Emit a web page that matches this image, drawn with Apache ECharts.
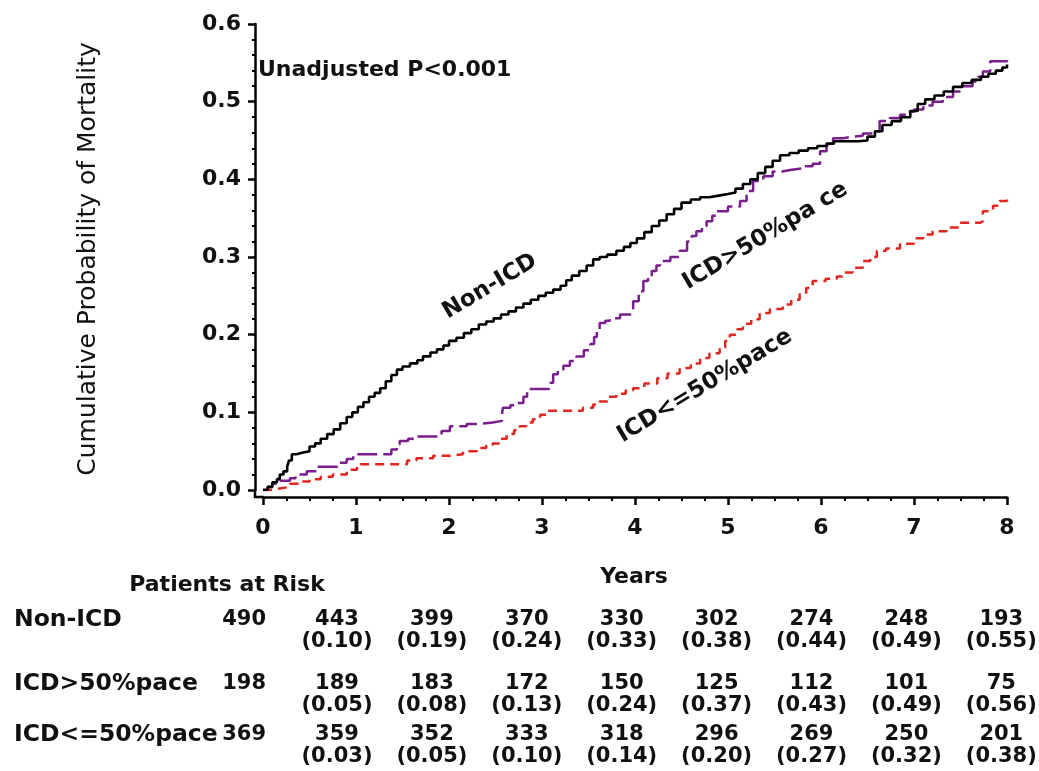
<!DOCTYPE html>
<html>
<head>
<meta charset="utf-8">
<script src="https://cdn.jsdelivr.net/npm/echarts@6/dist/echarts.min.js"></script>
<style>
html,body{margin:0;padding:0;background:#fff;}
#chart{width:1039px;height:771px;}
</style>
</head>
<body>
<div id="chart"></div>
<script>
// ---------- DATA ----------
const seriesNames = ['Non-ICD', 'ICD>50%pace', 'ICD<=50%pace'];
const xTicks = [0, 1, 2, 3, 4, 5, 6, 7, 8];
const yTicks = [0.0, 0.1, 0.2, 0.3, 0.4, 0.5, 0.6];

const nonICD = [[0,0],[0.05,0.004],[0.1,0.01],[0.15,0.014],[0.18,0.02],[0.22,0.024],[0.26,0.03],[0.28,0.038],[0.31,0.046],[0.36,0.048],[0.42,0.05],[0.5,0.056],[0.56,0.06],[0.62,0.066],[0.69,0.072],[0.76,0.078],[0.83,0.086],[0.9,0.094],[0.96,0.1],[1.02,0.107],[1.08,0.113],[1.14,0.12],[1.2,0.125],[1.26,0.131],[1.32,0.14],[1.38,0.148],[1.44,0.155],[1.5,0.159],[1.58,0.163],[1.66,0.167],[1.72,0.172],[1.8,0.177],[1.87,0.181],[1.94,0.186],[2.0,0.192],[2.08,0.196],[2.16,0.202],[2.24,0.207],[2.32,0.213],[2.4,0.217],[2.48,0.221],[2.56,0.226],[2.64,0.23],[2.72,0.235],[2.8,0.24],[2.88,0.245],[2.96,0.25],[3.04,0.254],[3.12,0.258],[3.2,0.263],[3.26,0.27],[3.32,0.276],[3.4,0.282],[3.48,0.289],[3.55,0.297],[3.62,0.3],[3.7,0.303],[3.8,0.308],[3.88,0.313],[3.95,0.318],[4.02,0.324],[4.1,0.332],[4.18,0.34],[4.26,0.347],[4.34,0.355],[4.42,0.362],[4.5,0.37],[4.6,0.374],[4.7,0.377],[4.8,0.379],[4.9,0.381],[5.0,0.383],[5.08,0.388],[5.16,0.394],[5.24,0.4],[5.32,0.408],[5.4,0.416],[5.48,0.424],[5.56,0.431],[5.66,0.434],[5.76,0.437],[5.86,0.44],[5.96,0.443],[6.06,0.446],[6.14,0.449],[6.26,0.449],[6.4,0.45],[6.5,0.455],[6.58,0.462],[6.66,0.47],[6.76,0.475],[6.86,0.48],[6.96,0.488],[7.04,0.497],[7.12,0.503],[7.22,0.508],[7.32,0.513],[7.42,0.519],[7.52,0.524],[7.62,0.528],[7.72,0.532],[7.8,0.536],[7.88,0.54],[7.95,0.544],[8.0,0.548]];

const icdHigh = [[0,0],[0.05,0.004],[0.1,0.008],[0.15,0.012],[0.29,0.015],[0.35,0.02],[0.47,0.024],[0.58,0.03],[0.8,0.035],[0.9,0.04],[0.97,0.046],[1.28,0.046],[1.38,0.052],[1.44,0.059],[1.47,0.063],[1.56,0.066],[1.65,0.069],[1.83,0.069],[1.92,0.076],[2.01,0.082],[2.19,0.085],[2.33,0.087],[2.47,0.089],[2.57,0.098],[2.58,0.106],[2.66,0.109],[2.73,0.112],[2.8,0.12],[2.84,0.13],[3.01,0.13],[3.09,0.138],[3.12,0.149],[3.17,0.155],[3.23,0.16],[3.3,0.166],[3.37,0.172],[3.45,0.18],[3.52,0.188],[3.56,0.197],[3.59,0.205],[3.62,0.215],[3.68,0.218],[3.73,0.221],[3.84,0.226],[3.95,0.228],[3.98,0.243],[4.04,0.256],[4.09,0.269],[4.14,0.276],[4.18,0.282],[4.23,0.289],[4.27,0.295],[4.38,0.3],[4.48,0.308],[4.56,0.32],[4.61,0.327],[4.66,0.333],[4.72,0.34],[4.77,0.346],[4.83,0.353],[4.88,0.359],[5.0,0.365],[5.13,0.372],[5.2,0.385],[5.27,0.398],[5.38,0.404],[5.48,0.41],[5.58,0.412],[5.67,0.414],[5.8,0.417],[5.91,0.42],[5.99,0.436],[6.06,0.445],[6.13,0.453],[6.24,0.455],[6.34,0.456],[6.45,0.459],[6.56,0.462],[6.63,0.475],[6.74,0.479],[6.85,0.483],[6.93,0.487],[7.0,0.49],[7.1,0.495],[7.2,0.5],[7.31,0.506],[7.42,0.513],[7.52,0.52],[7.63,0.526],[7.69,0.532],[7.74,0.539],[7.82,0.552],[7.95,0.552],[8.0,0.556]];

const icdLow = [[0,0],[0.1,0.002],[0.18,0.004],[0.29,0.008],[0.4,0.011],[0.5,0.014],[0.62,0.017],[0.75,0.02],[0.9,0.026],[1.01,0.033],[1.47,0.033],[1.55,0.038],[1.65,0.041],[1.83,0.044],[2.01,0.046],[2.15,0.05],[2.3,0.054],[2.4,0.057],[2.47,0.06],[2.55,0.066],[2.62,0.072],[2.7,0.077],[2.76,0.082],[2.83,0.087],[2.9,0.091],[2.98,0.097],[3.05,0.102],[3.3,0.102],[3.44,0.106],[3.55,0.11],[3.62,0.114],[3.72,0.12],[3.8,0.124],[3.9,0.128],[3.98,0.131],[4.1,0.137],[4.24,0.144],[4.35,0.15],[4.48,0.157],[4.6,0.163],[4.7,0.17],[4.8,0.176],[4.91,0.183],[4.97,0.192],[5.02,0.2],[5.1,0.207],[5.16,0.214],[5.25,0.22],[5.34,0.228],[5.45,0.233],[5.59,0.239],[5.68,0.245],[5.77,0.252],[5.84,0.26],[5.91,0.269],[6.05,0.272],[6.17,0.275],[6.25,0.28],[6.34,0.286],[6.45,0.295],[6.53,0.3],[6.6,0.308],[6.7,0.311],[6.85,0.317],[7.0,0.324],[7.1,0.329],[7.2,0.333],[7.35,0.338],[7.49,0.344],[7.71,0.346],[7.74,0.359],[7.85,0.366],[7.92,0.372],[8.0,0.374]];

// Patients at risk table
const riskNonICD = [490, 443, 399, 370, 330, 302, 274, 248, 193];
const cumNonICD  = [null, 0.10, 0.19, 0.24, 0.33, 0.38, 0.44, 0.49, 0.55];
const riskHigh   = [198, 189, 183, 172, 150, 125, 112, 101, 75];
const cumHigh    = [null, 0.05, 0.08, 0.13, 0.24, 0.37, 0.43, 0.49, 0.56];
const riskLow    = [369, 359, 352, 333, 318, 296, 269, 250, 201];
const cumLow     = [null, 0.03, 0.05, 0.10, 0.14, 0.20, 0.27, 0.32, 0.38];

const pText = 'Unadjusted P<0.001';
const xTitle = 'Years';
const yTitle = 'Cumulative Probability of Mortality';
const tableTitle = 'Patients at Risk';

// ---------- CHART ----------
const FONT = 'DejaVu Sans';
const chart = echarts.init(document.getElementById('chart'), null, {renderer: 'canvas'});

const axisCommon = {
  axisLine: {show: true, onZero: false, lineStyle: {color: '#000', width: 2.5}},
  splitLine: {show: false},
  axisLabel: {color: '#111', fontFamily: FONT, fontWeight: 'bold', fontSize: 22},
};

chart.setOption({
  animation: false,
  backgroundColor: '#fff',
  grid: {left: 263, right: 32, top: 24, bottom: 281, containLabel: false},
  xAxis: Object.assign({}, axisCommon, {
    type: 'value', min: xTicks[0], max: xTicks[xTicks.length - 1], interval: 1,
    offset: 7,
    axisTick: {show: true, length: 8, lineStyle: {color: '#000', width: 2.5}},
    minorTick: {show: true, splitNumber: 4, length: 4, lineStyle: {color: '#000', width: 2}},
    axisLabel: Object.assign({}, axisCommon.axisLabel, {margin: 20})
  }),
  yAxis: Object.assign({}, axisCommon, {
    type: 'value', min: yTicks[0], max: yTicks[yTicks.length - 1], interval: 0.1,
    offset: 8,
    axisTick: {show: true, length: 7, lineStyle: {color: '#000', width: 2.5}},
    minorTick: {show: true, splitNumber: 5, length: 3, lineStyle: {color: '#000', width: 2}},
    axisLabel: Object.assign({}, axisCommon.axisLabel, {margin: 14, formatter: v => v.toFixed(1)})
  }),
  series: [
    {name: seriesNames[0], type: 'line', step: 'end', showSymbol: false, data: nonICD,
     lineStyle: {color: '#000', width: 2.6}, z: 3},
    {name: seriesNames[1], type: 'line', step: 'end', showSymbol: false, data: icdHigh,
     lineStyle: {color: '#7a1e8e', width: 2.5, type: [20, 6]}, z: 2},
    {name: seriesNames[2], type: 'line', step: 'end', showSymbol: false, data: icdLow,
     lineStyle: {color: '#e0261e', width: 2.5, type: [9, 6]}, z: 2}
  ]
});

// ---------- ANNOTATIONS ----------
const px = (x, y) => chart.convertToPixel({gridIndex: 0}, [x, y]);
const origin = px(0, 0);
const txt = (text, x, y, opts) => Object.assign({
  type: 'text', x: x, y: y,
  style: Object.assign({text: text, fill: '#111', fontFamily: FONT, fontWeight: 'bold', fontSize: 22,
    align: 'center', verticalAlign: 'middle'}, (opts && opts.style) || {})
}, opts && opts.rotation !== undefined ? {rotation: opts.rotation} : {});

const graphics = [];
// axis corner join
graphics.push({type: 'polyline', shape: {points: [[origin[0] - 8, origin[1]], [origin[0] - 8, origin[1] + 7], [origin[0] + 1, origin[1] + 7]]},
  style: {stroke: '#000', lineWidth: 2.5, fill: null}});

// P-value text
const pPos = px(0, 0.541);
graphics.push(txt(pText, pPos[0] - 5, pPos[1], {style: {align: 'left'}}));

// Curve labels (placed in data coordinates)
const deg = Math.PI / 180;
const l1 = px(2.44, 0.262);
graphics.push(txt(seriesNames[0], l1[0], l1[1], {rotation: 31 * deg, style: {fontSize: 23}}));
const l2 = px(5.4, 0.327);
graphics.push(txt('ICD>50%pa ce', l2[0], l2[1], {rotation: 31 * deg, style: {fontSize: 23}}));
const l3 = px(4.75, 0.134);
graphics.push(txt(seriesNames[2], l3[0], l3[1], {rotation: 31 * deg, style: {fontSize: 23}}));

// Axis titles
graphics.push(txt(yTitle, 88, 259, {rotation: 90 * deg, style: {fontWeight: 'normal', fontSize: 25}}));
graphics.push(txt(xTitle, 634, 577));

// Patients at risk table
graphics.push(txt(tableTitle, 227, 585));
const rowY = [620, 684, 735];
const rows = [[riskNonICD, cumNonICD], [riskHigh, cumHigh], [riskLow, cumLow]];
const colX0 = 337, colStep = 94.9;
rows.forEach((r, ri) => {
  graphics.push(txt(seriesNames[ri], 14, rowY[ri], {style: {align: 'left', fontSize: 23.5}}));
  graphics.push(txt(String(r[0][0]), 266, rowY[ri], {style: {align: 'right', fontSize: 21}}));
  for (let i = 1; i < r[0].length; i++) {
    const cx = colX0 + (i - 1) * colStep;
    graphics.push(txt(String(r[0][i]), cx, rowY[ri], {style: {fontSize: 21}}));
    graphics.push(txt('(' + r[1][i].toFixed(2) + ')', cx, rowY[ri] + 22, {style: {fontSize: 21}}));
  }
});

chart.setOption({graphic: graphics});
</script>
</body>
</html>
